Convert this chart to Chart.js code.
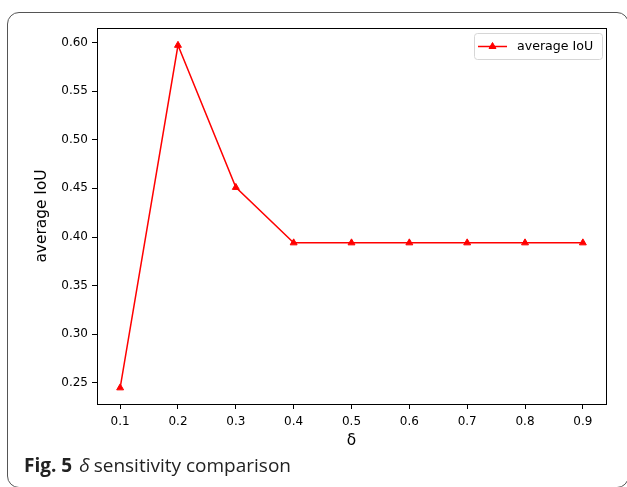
<!DOCTYPE html>
<html>
<head>
<meta charset="utf-8">
<script src="https://cdn.jsdelivr.net/npm/chart.js@4.4.0/dist/chart.umd.min.js"></script>
<style>
  body { margin: 0; background: #fff; }
  #wrap { position: relative; width: 627px; height: 487px; overflow: hidden; }
  #frame {
    position: absolute; left: 7px; top: 12px; width: 620px; height: 474px;
    border: 1px solid #555; border-radius: 12px; pointer-events: none;
  }
  #caption {
    position: absolute; left: 24px; top: 456px; font-family: "Open Sans", sans-serif;
    font-size: 19px; line-height: 19px; color: #222; white-space: nowrap;
  }
  #caption b { margin-right: 7px; }
  #caption i { margin-right: -1px; }
  canvas { position: absolute; left: 0; top: 0; }
</style>
</head>
<body>
<div id="wrap">
  <canvas id="mycanvas" width="627" height="487"></canvas>
  <div id="frame"></div>
  <div id="caption"><b>Fig. 5</b><i>δ</i> sensitivity comparison</div>
</div>
<script>
// delta values and measured average IoU
var deltas = [0.1, 0.2, 0.3, 0.4, 0.5, 0.6, 0.7, 0.8, 0.9];
var avgIoU = [0.245, 0.597, 0.451, 0.394, 0.394, 0.394, 0.394, 0.394, 0.394];
var xTicks = [0.1, 0.2, 0.3, 0.4, 0.5, 0.6, 0.7, 0.8, 0.9];
var yTicks = [0.25, 0.30, 0.35, 0.40, 0.45, 0.50, 0.55, 0.60];

var points = [];
for (var i in deltas) {
    points.push({x: deltas[i], y: avgIoU[i]});
}

// full box around the plot + matplotlib style legend
var boxPlugin = {
    id: 'box',
    afterDraw: function(chart) {
        var ctx = chart.ctx;
        var a = chart.chartArea;
        ctx.save();
        ctx.strokeStyle = '#000';
        ctx.lineWidth = 1;
        ctx.strokeRect(Math.round(a.left) + 0.5, Math.round(a.top) + 0.5,
            Math.round(a.right - a.left), Math.round(a.bottom - a.top));

        // legend
        var lx = a.right - 132, ly = a.top + 5, lw = 128, lh = 26;
        ctx.beginPath();
        ctx.roundRect(lx + 0.5, ly + 0.5, lw, lh, 3);
        ctx.fillStyle = 'rgba(255,255,255,0.8)';
        ctx.fill();
        ctx.strokeStyle = '#d6d6d6';
        ctx.stroke();
        var cy = ly + lh / 2 + 0.5;
        ctx.beginPath();
        ctx.moveTo(lx + 4, cy);
        ctx.lineTo(lx + 33, cy);
        ctx.strokeStyle = '#ff0000';
        ctx.lineWidth = 1.5;
        ctx.stroke();
        ctx.fillStyle = '#ff0000';
        ctx.lineWidth = 1;
        Chart.helpers.drawPoint(ctx, {pointStyle: 'triangle', radius: 4, borderWidth: 1}, lx + 18.5, cy);
        ctx.fillStyle = '#000';
        ctx.font = '12.6px "DejaVu Sans"';
        ctx.textBaseline = 'middle';
        ctx.fillText(chart.data.datasets[0].label, lx + 43, cy);
        ctx.restore();
    }
};

var ctx = document.getElementById('mycanvas');

var lineChart = new Chart(ctx, {
    type: 'line',
    data: {
        datasets: [
            {
                label: 'average IoU',
                data: points,
                borderColor: '#ff0000',
                backgroundColor: '#ff0000',
                borderWidth: 1.5,
                pointStyle: 'triangle',
                pointRadius: 4,
                pointHoverRadius: 4,
                pointBorderWidth: 1,
                tension: 0,
                fill: false
            }
        ]
    },
    options: {
        responsive: false,
        animation: false,
        events: [],
        layout: { padding: { left: 0, top: 28, right: 21, bottom: 0 } },
        plugins: {
            legend: { display: false },
            tooltip: { enabled: false }
        },
        scales: {
            x: {
                type: 'linear',
                min: 0.06,
                max: 0.94,
                afterFit: function(scale) { scale.height = 83; },
                afterBuildTicks: function(scale) {
                    scale.ticks = xTicks.map(function(v) { return {value: v}; });
                },
                ticks: {
                    color: '#000',
                    padding: 6,
                    maxRotation: 0,
                    font: { family: 'DejaVu Sans', size: 12 },
                    callback: function(v) { return v.toFixed(1); }
                },
                grid: { drawOnChartArea: false, tickLength: 5, color: '#000', tickColor: '#000' },
                border: { color: '#000', width: 1 },
                title: {
                    display: true,
                    text: 'δ',
                    color: '#000',
                    font: { family: 'DejaVu Sans', size: 15.4 },
                    padding: { top: 0, bottom: 37 }
                }
            },
            y: {
                min: 0.2284,
                max: 0.6148,
                afterFit: function(scale) { scale.width = 97; },
                afterBuildTicks: function(scale) {
                    scale.ticks = yTicks.map(function(v) { return {value: v}; });
                },
                ticks: {
                    color: '#000',
                    padding: 4,
                    font: { family: 'DejaVu Sans', size: 12 },
                    callback: function(v) { return v.toFixed(2); }
                },
                grid: { drawOnChartArea: false, tickLength: 5, color: '#000', tickColor: '#000' },
                border: { color: '#000', width: 1 },
                title: {
                    display: true,
                    text: 'average IoU',
                    color: '#000',
                    font: { family: 'DejaVu Sans', size: 15.4 },
                    padding: { top: 33, bottom: 0 }
                }
            }
        }
    },
    plugins: [boxPlugin]
});
</script>
</body>
</html>
